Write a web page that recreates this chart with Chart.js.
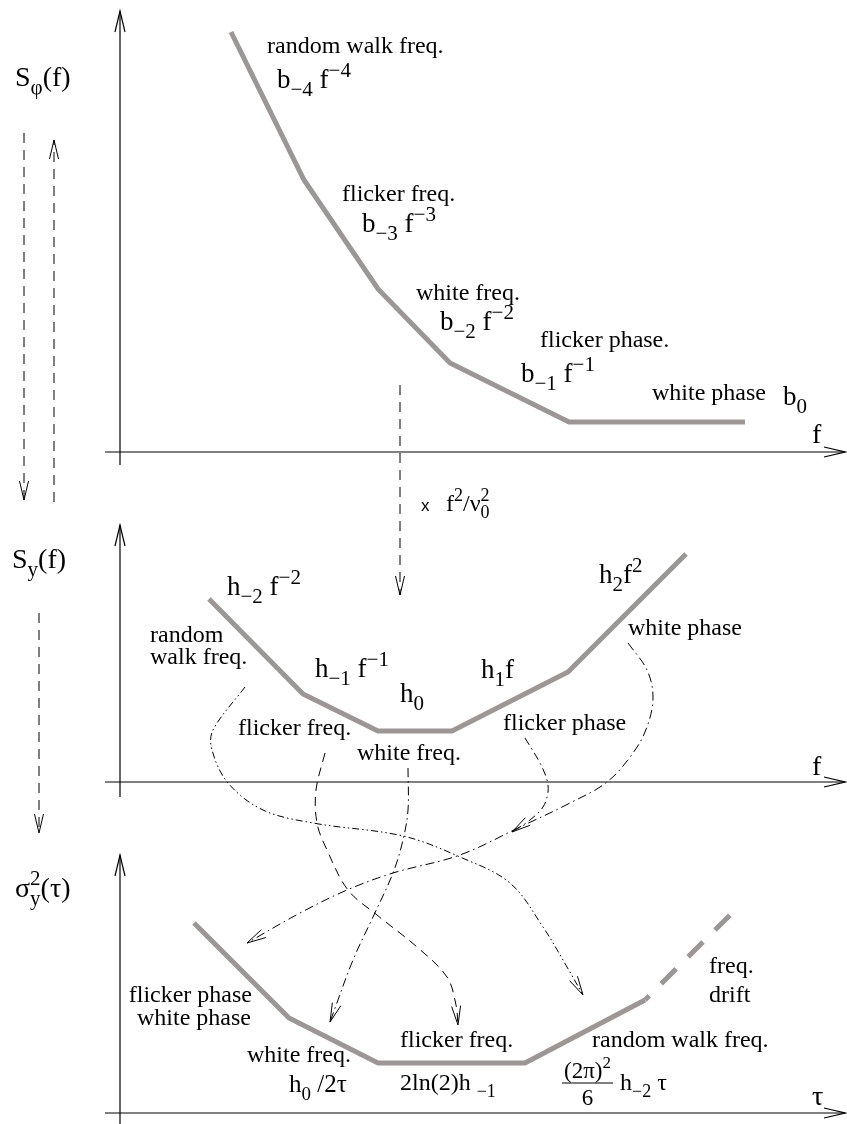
<!DOCTYPE html>
<html>
<head>
<meta charset="utf-8">
<script src="https://cdn.jsdelivr.net/npm/chart.js@4"></script>
<style>
  body { margin: 0; background: #fff; }
</style>
</head>
<body>
<canvas id="chart" width="847" height="1124"></canvas>
<script>
// piecewise spectra, drawn in page units (x right, y down)
const phaseSpecX = [231, 304, 378, 450, 569, 745];
const phaseSpecY = [32, 180, 289, 363, 422, 422];
const freqSpecX = [209, 303, 378, 452, 568, 686];
const freqSpecY = [599, 694, 731, 731, 672, 554];
const allanX = [194, 289, 378, 525, 645];
const allanY = [923, 1018, 1063, 1063, 1000];
const driftX = [645, 731];
const driftY = [1000, 914];

// axes of the three panels
const axisXs = [[105, 845], [105, 845], [105, 845]];
const axisXy = [452, 782, 1113];
const axisYx = 120;
const axisYs = [[465, 11], [797, 525], [1124, 855]];

// vertical conversion arrows
const convX = [[24, 24], [54, 54], [39, 39], [400, 400]];
const convY = [[133, 500], [502, 140], [613, 833], [385, 595]];

// curved links between S_y(f) and sigma^2
const rwLinkX = [245, 213, 212, 228, 263, 313, 403, 460, 510, 543, 567, 583];
const rwLinkY = [687, 730, 750, 783, 810, 823, 836, 857, 883, 927, 967, 995];
const ffLinkX = [325, 316, 317, 327, 348, 377, 417, 447, 456, 458];
const ffLinkY = [753, 790, 823, 850, 890, 915, 947, 977, 1005, 1025];
const wfLinkX = [408, 408, 403, 393, 373, 353, 330];
const wfLinkY = [768, 810, 840, 873, 917, 960, 1022];
const fpLinkX = [525, 540, 547, 548, 543, 530, 512];
const fpLinkY = [738, 763, 780, 792, 807, 820, 832];
const wpLinkX = [628, 647, 653, 647, 633, 607, 570, 520, 460, 393, 347, 300, 247];
const wpLinkY = [643, 670, 697, 727, 753, 782, 803, 827, 855, 873, 890, 913, 943];

const SERIF = '"Liberation Serif", "Times New Roman", serif';
const GRAY = '#9c9795';

const notes = [
  { text: 'S_{φ}(f)', x: 15, y: 86, size: 28 },
  { text: 'random walk freq.', x: 267, y: 53, size: 24 },
  { text: 'b_{−4} f^{−4}', x: 277, y: 88, size: 27 },
  { text: 'flicker freq.', x: 342, y: 201, size: 24 },
  { text: 'b_{−3} f^{−3}', x: 362, y: 232, size: 27 },
  { text: 'white freq.', x: 416, y: 300, size: 24 },
  { text: 'b_{−2} f^{−2}', x: 440, y: 330, size: 27 },
  { text: 'flicker phase.', x: 540, y: 347, size: 24 },
  { text: 'b_{−1} f^{−1}', x: 521, y: 382, size: 27 },
  { text: 'white phase', x: 652, y: 400, size: 24 },
  { text: 'b_{0}', x: 783, y: 405, size: 27 },
  { text: 'f', x: 812, y: 443, size: 28 },

  { text: 'f^{2}/ν_{0}^{2}', x: 446, y: 511, size: 24 },

  { text: 'S_{y}(f)', x: 12, y: 568, size: 28 },
  { text: 'h_{−2} f^{−2}', x: 227, y: 595, size: 27 },
  { text: 'random', x: 150, y: 642, size: 24 },
  { text: 'walk freq.', x: 150, y: 664, size: 24 },
  { text: 'h_{−1} f^{−1}', x: 315, y: 677, size: 27 },
  { text: 'h_{0}', x: 400, y: 702, size: 27 },
  { text: 'flicker freq.', x: 238, y: 735, size: 24 },
  { text: 'white freq.', x: 357, y: 760, size: 24 },
  { text: 'h_{1}f', x: 481, y: 678, size: 27 },
  { text: 'flicker phase', x: 503, y: 730, size: 24 },
  { text: 'h_{2}f^{2}', x: 599, y: 583, size: 27 },
  { text: 'white phase', x: 628, y: 635, size: 24 },
  { text: 'f', x: 812, y: 775, size: 28 },

  { text: 'σ_{y}^{2}(τ)', x: 15, y: 897, size: 28 },
  { text: 'flicker phase', x: 252, y: 1002, size: 24, align: 'right' },
  { text: 'white phase', x: 251, y: 1025, size: 24, align: 'right' },
  { text: 'white freq.', x: 247, y: 1062, size: 24 },
  { text: 'h_{0} /2τ', x: 289, y: 1092, size: 25 },
  { text: 'flicker freq.', x: 400, y: 1047, size: 24 },
  { text: '2ln(2)h _{−1}', x: 400, y: 1090, size: 24 },
  { text: 'random walk freq.', x: 592, y: 1047, size: 24 },
  { text: 'h_{−2} τ', x: 620, y: 1090, size: 24 },
  { text: 'freq.', x: 709, y: 973, size: 24 },
  { text: 'drift', x: 709, y: 1002, size: 24 },
  { text: 'τ', x: 812, y: 1105, size: 28 }
];

function pts(xs, ys) {
  return xs.map((x, i) => ({ x: x, y: ys[i] }));
}

function line(xs, ys, opts) {
  return Object.assign({
    data: pts(xs, ys),
    showLine: true,
    pointRadius: 0,
    borderColor: '#000',
    borderWidth: 1,
    fill: false,
    tension: 0
  }, opts);
}

const datasets = [];
axisXs.forEach((xs, i) => {
  datasets.push(line(xs, [axisXy[i], axisXy[i]], { borderWidth: 1.2, arrow: 'axis' }));
  datasets.push(line([axisYx, axisYx], axisYs[i], { borderWidth: 1.2, arrow: 'axis' }));
});
convX.forEach((xs, i) => {
  datasets.push(line(xs, convY[i], { borderDash: [10, 7], arrow: 'small' }));
});
datasets.push(line(rwLinkX, rwLinkY, { tension: 0.35, borderDash: [7, 3, 1.5, 3, 1.5, 3], arrow: 'small' }));
datasets.push(line(ffLinkX, ffLinkY, { tension: 0.35, borderDash: [9, 6], arrow: 'small' }));
datasets.push(line(wfLinkX, wfLinkY, { tension: 0.35, borderDash: [9, 4, 1.5, 4], arrow: 'small' }));
datasets.push(line(fpLinkX, fpLinkY, { tension: 0.35, borderDash: [8, 4, 1.5, 4], arrow: 'small' }));
datasets.push(line(wpLinkX, wpLinkY, { tension: 0.35, borderDash: [9, 4, 1.5, 4], arrow: 'small' }));

datasets.push(line(phaseSpecX, phaseSpecY, { borderColor: GRAY, borderWidth: 5 }));
datasets.push(line(freqSpecX, freqSpecY, { borderColor: GRAY, borderWidth: 5 }));
datasets.push(line(allanX, allanY, { borderColor: GRAY, borderWidth: 5 }));
datasets.push(line(driftX, driftY, { borderColor: GRAY, borderWidth: 5, borderDash: [21, 17], borderDashOffset: 15 }));

function tokenize(str) {
  const out = [];
  let buf = '', i = 0;
  while (i < str.length) {
    const c = str[i];
    if ((c === '_' || c === '^') && str[i + 1] === '{') {
      if (buf) { out.push({ t: buf, k: 'n' }); buf = ''; }
      const j = str.indexOf('}', i);
      out.push({ t: str.slice(i + 2, j), k: c === '_' ? 'sub' : 'sup' });
      i = j + 1;
    } else {
      buf += c;
      i++;
    }
  }
  if (buf) out.push({ t: buf, k: 'n' });
  return out;
}

// lays out (and optionally draws) a string with _{sub} and ^{sup}
function richText(ctx, str, x, y, size, draw) {
  const toks = tokenize(str);
  const small = Math.round(size * 0.76);
  let cx = x, scriptStart = null, scriptW = 0;
  toks.forEach((tk, idx) => {
    const isScript = tk.k !== 'n';
    const fs = isScript ? small : size;
    ctx.font = fs + 'px ' + SERIF;
    const w = ctx.measureText(tk.t).width;
    let dy = 0;
    if (tk.k === 'sub') dy = size * 0.3;
    if (tk.k === 'sup') dy = -size * 0.42;
    let px = cx;
    const prev = toks[idx - 1];
    if (tk.k === 'sup' && prev && prev.k === 'sub') {
      px = scriptStart;
      const nw = Math.max(scriptW, w);
      cx = scriptStart + nw;
    } else {
      if (isScript) { scriptStart = cx; scriptW = w; }
      cx += w;
    }
    if (draw) ctx.fillText(tk.t, px, y + dy);
  });
  return cx - x;
}

function arrowHead(ctx, tip, from, len, half) {
  const dx = tip.x - from.x, dy = tip.y - from.y;
  const d = Math.hypot(dx, dy) || 1;
  const ux = dx / d, uy = dy / d;
  const bx = tip.x - ux * len, by = tip.y - uy * len;
  ctx.beginPath();
  ctx.moveTo(bx - uy * half, by + ux * half);
  ctx.lineTo(tip.x, tip.y);
  ctx.lineTo(bx + uy * half, by - ux * half);
  ctx.stroke();
}

const diagramPlugin = {
  id: 'diagram',
  afterDatasetsDraw(chart) {
    const ctx = chart.ctx;
    const xs = chart.scales.x, ys = chart.scales.y;
    ctx.save();
    ctx.strokeStyle = '#000';
    ctx.setLineDash([]);
    chart.data.datasets.forEach((ds, i) => {
      if (!ds.arrow) return;
      const el = chart.getDatasetMeta(i).data;
      const tip = el[el.length - 1], from = el[el.length - 2];
      if (ds.arrow === 'axis') {
        ctx.lineWidth = 1.2;
        arrowHead(ctx, tip, from, 21, 5);
      } else {
        ctx.lineWidth = 1;
        arrowHead(ctx, tip, from, 19, 4.5);
      }
    });

    ctx.fillStyle = '#000';
    ctx.textBaseline = 'alphabetic';
    ctx.textAlign = 'left';
    notes.forEach(n => {
      let px = xs.getPixelForValue(n.x);
      const py = ys.getPixelForValue(n.y);
      if (n.align === 'right') px -= richText(ctx, n.text, 0, 0, n.size, false);
      richText(ctx, n.text, px, py, n.size, true);
    });

    // "x" factor between the spectra
    ctx.font = '17px "Liberation Sans", Arial, sans-serif';
    ctx.fillText('x', xs.getPixelForValue(421), ys.getPixelForValue(511));

    // (2pi)^2 / 6 fraction
    const fx = xs.getPixelForValue(562), fw = 51;
    const numW = richText(ctx, '(2π)^{2}', 0, 0, 23, false);
    richText(ctx, '(2π)^{2}', fx + (fw - numW) / 2, ys.getPixelForValue(1078), 23, true);
    ctx.font = '23px ' + SERIF;
    ctx.textAlign = 'center';
    ctx.fillText('6', fx + fw / 2, ys.getPixelForValue(1105));
    ctx.lineWidth = 1.2;
    ctx.beginPath();
    ctx.moveTo(fx, ys.getPixelForValue(1083));
    ctx.lineTo(fx + fw, ys.getPixelForValue(1083));
    ctx.stroke();
    ctx.restore();
  }
};

new Chart(document.getElementById('chart'), {
  type: 'scatter',
  data: { datasets: datasets },
  options: {
    responsive: false,
    animation: false,
    layout: { padding: 0 },
    plugins: { legend: { display: false }, tooltip: { enabled: false } },
    scales: {
      x: { type: 'linear', min: 0, max: 847, display: false },
      y: { type: 'linear', min: 0, max: 1124, reverse: true, display: false }
    }
  },
  plugins: [diagramPlugin]
});
</script>
</body>
</html>
